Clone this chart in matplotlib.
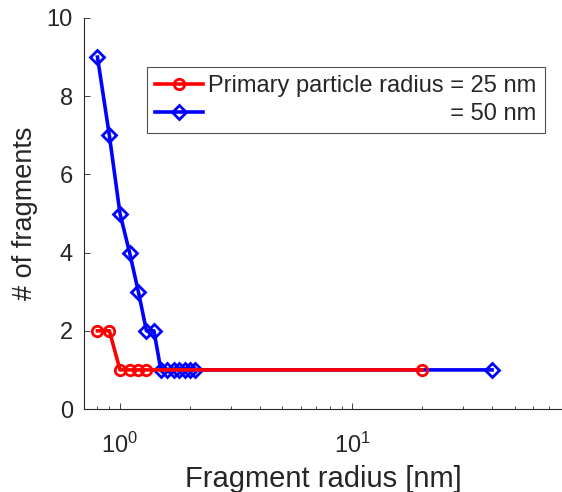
import matplotlib
matplotlib.use("Agg")
import matplotlib.pyplot as plt
from matplotlib.ticker import LogLocator, FixedLocator

plt.rcParams['font.family'] = ['Liberation Sans', 'DejaVu Sans']
plt.rcParams['mathtext.fontset'] = 'custom'
plt.rcParams['mathtext.rm'] = 'Liberation Sans'
plt.rcParams['mathtext.it'] = 'Liberation Sans:italic'

x_25 = [0.8, 0.9, 1.0, 1.1, 1.2, 1.3, 20]
y_25 = [2, 2, 1, 1, 1, 1, 1]
x_50 = [0.8, 0.9, 1.0, 1.1, 1.2, 1.3, 1.4, 1.5, 1.6, 1.7, 1.8, 1.9, 2.0, 2.1, 40]
y_50 = [9, 7, 5, 4, 3, 2, 2, 1, 1, 1, 1, 1, 1, 1, 1]
label_25 = "Primary particle radius = 25 nm"
label_50 = "= 50 nm"
yticks = [0, 2, 4, 6, 8, 10]

txt = (0.15, 0.15, 0.15)
fig = plt.figure(figsize=(5.62, 4.92), dpi=100)
ax = fig.add_axes([84/562, 83/492, 478/562, 391/492])

ax.plot(x_50, y_50, color=(0, 0, 1), lw=2.6, marker='D', ms=7, mfc='none', mew=2, label=label_50, zorder=2)
ax.plot(x_25, y_25, color=(1, 0, 0), lw=2.6, marker='o', ms=7.5, mfc='none', mew=2, label=label_25, zorder=3)

ax.set_xscale('log')
ax.set_xlim(0.7, 80)
ax.set_ylim(0, 10)
ax.set_yticks(yticks)
ax.xaxis.set_major_locator(FixedLocator([1, 10]))
ax.set_xticklabels([r'$10^0$', r'$10^1$'])
ax.xaxis.set_minor_locator(LogLocator(base=10, subs=range(2, 10)))

for s in ['top', 'right']:
    ax.spines[s].set_visible(False)
for s in ['left', 'bottom']:
    ax.spines[s].set_color(txt)
    ax.spines[s].set_linewidth(0.8)
ax.tick_params(direction='in', which='both', colors=txt, labelsize=17, length=4, width=0.6)
ax.tick_params(which='minor', length=2.5)
ax.tick_params(axis='x', pad=17)
ax.tick_params(axis='y', pad=8)
ax.set_xlabel('Fragment radius [nm]', fontsize=21, color=txt, labelpad=5)
ax.set_ylabel('# of fragments', fontsize=19.5, color=txt, labelpad=6)

handles, labels = ax.get_legend_handles_labels()
handles = handles[::-1]
labels = labels[::-1]

# pad second label so its text is right-aligned with the first
fig.canvas.draw()
r = fig.canvas.get_renderer()
fs = 17
def width(s):
    t = fig.text(0, 0, s, fontsize=fs)
    w = t.get_window_extent(r).width
    t.remove()
    return w
w_full = width(label_25)
w_short = width(label_50)
w_sp = width("a\u2009a") - width("aa")
n = int(round((w_full - w_short) / w_sp))
labels[1] = "\u2009" * n + label_50

leg = ax.legend(handles, labels, loc='upper left', bbox_to_anchor=(0.132, 0.875),
                fontsize=fs, frameon=True, fancybox=False, edgecolor=txt,
                handlelength=2.0, handletextpad=0.25, borderpad=0.35, labelspacing=0.25,
                borderaxespad=0)
leg.get_frame().set_linewidth(0.8)
for t in leg.get_texts():
    t.set_color(txt)

fig.savefig('out.png', dpi=100)
